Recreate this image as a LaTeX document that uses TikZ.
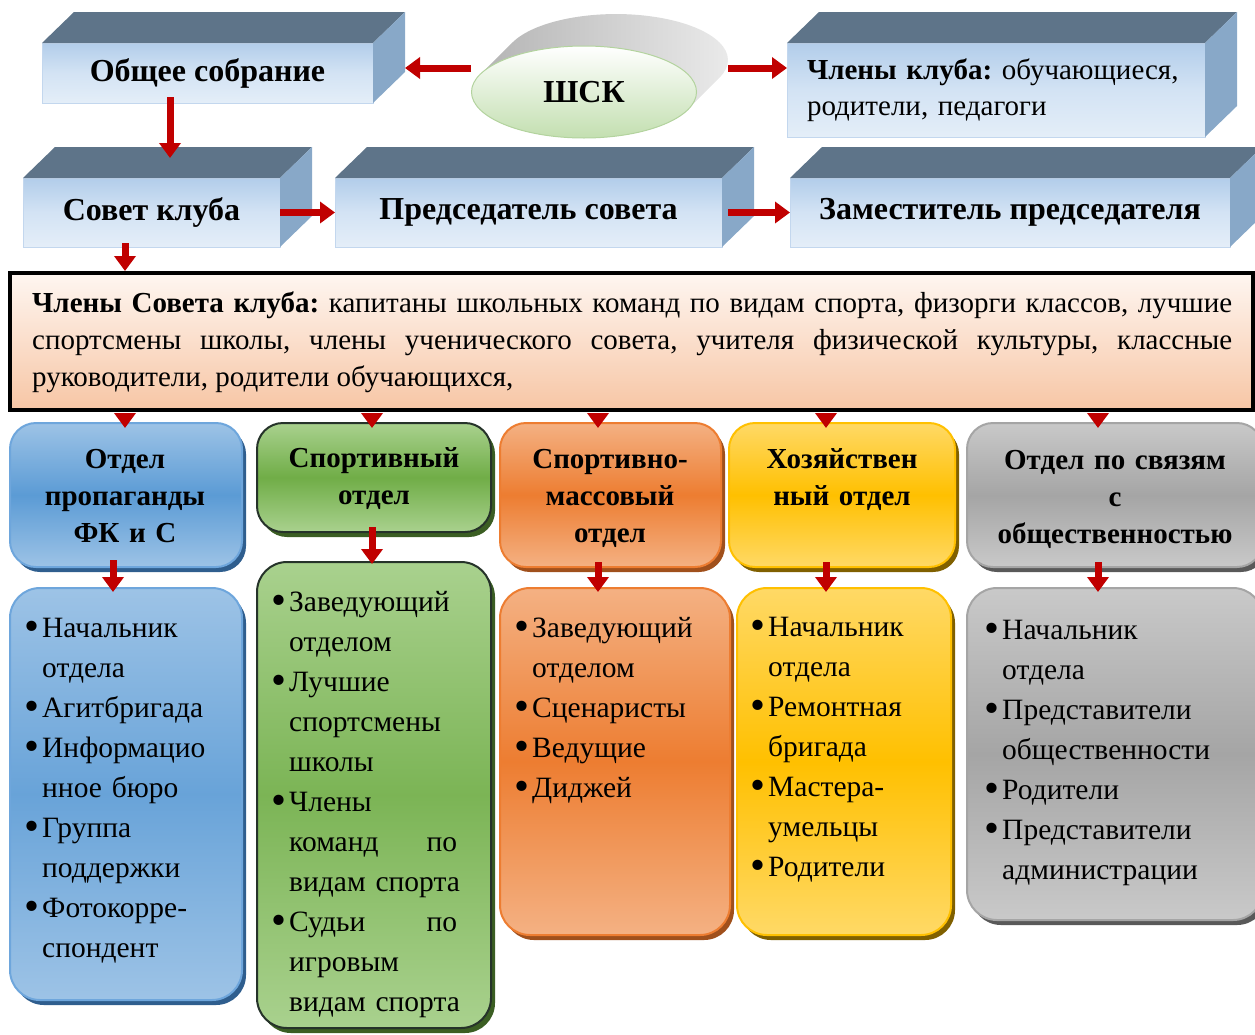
\documentclass[tikz,border=0pt]{standalone}
\usepackage{fontspec}
\usepackage{graphicx}
\setmainfont{Liberation Serif}
\usetikzlibrary{arrows.meta,shapes.geometric,shadows,calc}
\definecolor{arrowred}{HTML}{C00000}
\definecolor{slate}{HTML}{5E7489}
\definecolor{sideblue}{HTML}{88A8C8}
\definecolor{fronttop}{HTML}{B2CDEA}
\definecolor{frontmid}{HTML}{D3E3F4}
\definecolor{frontbot}{HTML}{E4EEF8}
\definecolor{frontedge}{HTML}{C3D7EE}
\definecolor{peach}{HTML}{F7C6A5}
\definecolor{peachtop}{HTML}{FEF6F1}
\definecolor{bluelt}{HTML}{9DC3E6}
\definecolor{bluedk}{HTML}{5B9BD5}
\definecolor{blueedge}{HTML}{6EA6DC}
\definecolor{blueshadow}{HTML}{2F5E8E}
\definecolor{greenlt}{HTML}{A9D18E}
\definecolor{greendk}{HTML}{70AD47}
\definecolor{greenedge}{HTML}{26332A}
\definecolor{greenshadow}{HTML}{3B5E23}
\definecolor{orangelt}{HTML}{F4B183}
\definecolor{orangedk}{HTML}{ED7D31}
\definecolor{orangeshadow}{HTML}{A0501C}
\definecolor{yellowlt}{HTML}{FFD966}
\definecolor{yellowdk}{HTML}{FFC000}
\definecolor{yellowshadow}{HTML}{806000}
\definecolor{graylt}{HTML}{C9C9C9}
\definecolor{graydk}{HTML}{A5A5A5}
\definecolor{grayshadow}{HTML}{595959}
\definecolor{shkgreen}{HTML}{C3DFB0}
\definecolor{shkedge}{HTML}{B3D39E}
\definecolor{shkgraydk}{HTML}{9A9A9A}
\definecolor{shkgrayml}{HTML}{B4B4B4}
\definecolor{shkgraylt}{HTML}{EDEDED}
\newcommand\bul{\makebox[18pt][l]{\raisebox{-3.5pt}{\scalebox{1.45}{\textbullet}}}}
\newcommand\ind{\hspace*{18pt}}
\frenchspacing
\begin{document}
\begin{tikzpicture}[x=1pt,y=-1pt,
  redarrow/.style={draw=arrowred, line width=7pt, -{Triangle[width=21pt,length=15pt]}},
  front/.style={inner sep=0pt, outer sep=0pt, top color=fronttop, bottom color=frontbot, middle color=frontmid, draw=frontedge, line width=0.8pt, font=\bfseries\fontsize{32}{38}\selectfont},
  topface/.style={fill=slate},
  sideface/.style={fill=sideblue},
  deptbox/.style n args={4}{rounded corners=26pt, inner sep=0pt, outer sep=0pt, top color=#1, bottom color=#1, middle color=#2, draw=#3, line width=2pt, general shadow={fill=#4, shadow xshift=4pt, shadow yshift=-5pt}},
  depttext/.style={anchor=base, text width=236, align=center, inner sep=0pt, font=\bfseries\fontsize{29}{37}\selectfont},
  listtext/.style={anchor=base west, text width=240, align=left, inner sep=0pt, font=\fontsize{29.5}{40}\selectfont},
]
\useasboundingbox (0,0) rectangle (1255,1034);
\clip (0,0) rectangle (1255,1034);

% ---- ШСК ----
\shade[left color=shkgrayml, middle color=shkgraydk, right color=shkgraylt] (719.6,77.5) arc[start angle=22.3,end angle=-157.7,x radius=112,y radius=46] -- (480.4,74.5) -- (687.6,109.5) -- cycle;
\node[ellipse, minimum width=225, minimum height=92, inner sep=0pt, top color=white, bottom color=shkgreen, draw=shkedge, line width=1pt, font=\bfseries\fontsize{32}{38}\selectfont] (shk) at (584,92) {ШСК};

% ---- 3D boxes ----
\node[front, minimum width=331, minimum height=60] (obs) at (207.5,73) {Общее собрание};
\fill[topface] (obs.north west) -- ++(32,-31) -- ($(obs.north east)+(32,-31)$) -- (obs.north east) -- cycle;
\fill[sideface] (obs.north east) -- ++(32,-31) -- ($(obs.south east)+(32,-31)$) -- (obs.south east) -- cycle;

\node[front, minimum width=418, minimum height=94, text width=378, align=left, font=\fontsize{29}{36}\selectfont] (klub) at (996,90) {\textbf{Члены клуба:} обучающиеся, родители, педагоги};
\fill[topface] (klub.north west) -- ++(32,-31) -- ($(klub.north east)+(32,-31)$) -- (klub.north east) -- cycle;
\fill[sideface] (klub.north east) -- ++(32,-31) -- ($(klub.south east)+(32,-31)$) -- (klub.south east) -- cycle;

\node[front, minimum width=257, minimum height=69] (sovet) at (151.5,212.5) {Совет клуба};
\fill[topface] (sovet.north west) -- ++(32,-31) -- ($(sovet.north east)+(32,-31)$) -- (sovet.north east) -- cycle;
\fill[sideface] (sovet.north east) -- ++(32,-31) -- ($(sovet.south east)+(32,-31)$) -- (sovet.south east) -- cycle;

\node[front, minimum width=387, minimum height=69] (pred) at (528.5,212.5) {Председатель совета};
\fill[topface] (pred.north west) -- ++(32,-31) -- ($(pred.north east)+(32,-31)$) -- (pred.north east) -- cycle;
\fill[sideface] (pred.north east) -- ++(32,-31) -- ($(pred.south east)+(32,-31)$) -- (pred.south east) -- cycle;

\node[front, minimum width=440, minimum height=69] (zam) at (1010,212.5) {Заместитель председателя};
\fill[topface] (zam.north west) -- ++(32,-31) -- ($(zam.north east)+(32,-31)$) -- (zam.north east) -- cycle;
\fill[sideface] (zam.north east) -- ++(32,-31) -- ($(zam.south east)+(32,-31)$) -- (zam.south east) -- cycle;

% ---- members box ----
\node[draw=black, line width=4pt, top color=peachtop, bottom color=peach, minimum width=1243, minimum height=137, inner sep=0pt] (members) at (631.5,341.5) {};
\node[anchor=base west, text width=1200, align=left, inner sep=0pt, font=\fontsize{29}{37}\selectfont] (memberstext) at (32,312) {%
\spaceskip=0.25em plus 0.6em minus 0.12em\relax
\leavevmode\hbox to 1200pt{\textbf{Члены Совета клуба:} капитаны школьных команд по видам спорта, физорги классов, лучшие}\\
\leavevmode\hbox to 1200pt{спортсмены школы, члены ученического совета, учителя физической культуры, классные}\\
руководители, родители обучающихся,};

% ---- departments ----
\node[deptbox={bluelt}{bluedk}{blueedge}{blueshadow}, minimum width=232, minimum height=144] (d1) at (126,495) {};
\node[deptbox={greenlt}{greendk}{greenedge}{greenshadow}, minimum width=234, minimum height=109] (d2) at (374,477.5) {};
\node[deptbox={orangelt}{orangedk}{orangedk}{orangeshadow}, minimum width=221, minimum height=144] (d3) at (610.5,495) {};
\node[deptbox={yellowlt}{yellowdk}{yellowdk}{yellowshadow}, minimum width=226, minimum height=144] (d4) at (842,495) {};
\node[deptbox={graylt}{graydk}{graydk}{grayshadow}, minimum width=296, minimum height=144] (d5) at (1115,495) {};

\node[depttext] (d1t) at (125,468) {Отдел\\пропаганды\\ФК и С};
\node[depttext] (d2t) at (374,467) {Спортивный\\отдел};
\node[depttext] (d3t) at (610,468) {Спортивно-\\массовый\\отдел};
\node[depttext] (d4t) at (842,468) {Хозяйствен\\ный отдел};
\node[depttext, text width=280] (d5t) at (1115,469) {Отдел по связям\\с\\общественностью};

% ---- lists ----
\node[deptbox={bluelt}{bluedk!80!bluelt}{blueedge}{blueshadow}, rounded corners=30pt, minimum width=232, minimum height=412] (l1) at (126,794) {};
\node[deptbox={greenlt}{greendk!80!greenlt}{greenedge}{greenshadow}, rounded corners=30pt, minimum width=234, minimum height=466] (l2) at (374,795) {};
\node[deptbox={orangelt}{orangedk}{orangedk}{orangeshadow}, rounded corners=30pt, minimum width=230, minimum height=347] (l3) at (615,761.5) {};
\node[deptbox={yellowlt}{yellowdk}{yellowdk}{yellowshadow}, rounded corners=30pt, minimum width=214, minimum height=347] (l4) at (844,761.5) {};
\node[deptbox={graylt}{graydk}{graydk}{grayshadow}, rounded corners=30pt, minimum width=296, minimum height=332] (l5) at (1115,754) {};

\node[listtext] (l1t) at (24,637) {\bul Начальник\\ \ind отдела\\ \bul Агитбригада\\ \bul Информацио\\ \ind нное бюро\\ \bul Группа\\ \ind поддержки\\ \bul Фотокорре-\\ \ind спондент};
\node[listtext] (l2t) at (271,611) {\bul Заведующий\\ \ind отделом\\ \bul Лучшие\\ \ind спортсмены\\ \ind школы\\ \bul Члены\\ \ind\makebox[168pt][l]{команд\hfill по}\\ \ind видам спорта\\ \bul\makebox[168pt][l]{Судьи\hfill по}\\ \ind игровым\\ \ind видам спорта};
\node[listtext] (l3t) at (514,637) {\bul Заведующий\\ \ind отделом\\ \bul Сценаристы\\ \bul Ведущие\\ \bul Диджей};
\node[listtext] (l4t) at (750,636) {\bul Начальник\\ \ind отдела\\ \bul Ремонтная\\ \ind бригада\\ \bul Мастера-\\ \ind умельцы\\ \bul Родители};
\node[listtext] (l5t) at (984,639) {\bul Начальник\\ \ind отдела\\ \bul Представители\\ \ind общественности\\ \bul Родители\\ \bul Представители\\ \ind администрации};

% ---- arrows ----
\draw[redarrow, shorten >=32pt] (shk.west |- 0,68) -- (obs.east |- 0,68);
\draw[redarrow, shorten <=31pt] (shk.east |- 0,68) -- (klub.west |- 0,68);
\draw[redarrow, shorten <=-6pt, shorten >=20pt] (obs.south -| 170,0) -- (sovet.north -| 170,0);
\draw[redarrow] (sovet.east) -- (pred.west);
\draw[redarrow, shorten <=6pt] (pred.east) -- (zam.west);
\draw[redarrow, shorten <=-4pt] (sovet.south -| 125,0) -- (members.north -| 125,0);
\foreach \n/\x in {d1/125,d2/372,d3/598,d4/826,d5/1098}
  \draw[redarrow, shorten <=6pt, shorten >=-5pt] (members.south -| \x,0) -- (\n.north -| \x,0);
\draw[redarrow, shorten <=-7pt, shorten >=-4pt] (d1.south -| 113,0) -- (l1.north -| 113,0);
\draw[redarrow, shorten <=-5pt, shorten >=-2pt] (d2.south -| 372,0) -- (l2.north -| 372,0);
\draw[redarrow, shorten <=-5pt, shorten >=-4pt] (d3.south -| 598,0) -- (l3.north -| 598,0);
\draw[redarrow, shorten <=-5pt, shorten >=-4pt] (d4.south -| 826,0) -- (l4.north -| 826,0);
\draw[redarrow, shorten <=-5pt, shorten >=-4pt] (d5.south -| 1098,0) -- (l5.north -| 1098,0);
\end{tikzpicture}
\end{document}
